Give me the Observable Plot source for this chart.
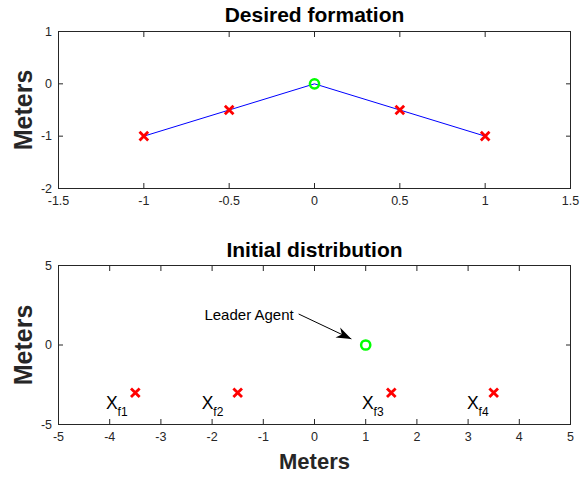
<!DOCTYPE html>
<html><head><meta charset="utf-8">
<script src="https://cdn.jsdelivr.net/npm/d3@7"></script>
<script src="https://cdn.jsdelivr.net/npm/@observablehq/plot@0.6"></script>
<style>
body{margin:0;background:#fff}
#c{position:relative;width:587px;height:478px}
#c svg{position:absolute;left:0}
</style>
</head><body><div id="c"></div>
<script>
// ---- Data ----
const desiredTitle = "Desired formation";
const initialTitle = "Initial distribution";
const axisLabel = "Meters";
const desiredLineX = [-1, -0.5, 0, 0.5, 1];
const desiredLineY = [-1, -0.5, 0, -0.5, -1];
const desiredFollowerX = [-1, -0.5, 0.5, 1];
const desiredFollowerY = [-1, -0.5, -0.5, -1];
const desiredLeaderX = [0];
const desiredLeaderY = [0];
const initFollowerX = [-3.5, -1.5, 1.5, 3.5];
const initFollowerY = [-3, -3, -3, -3];
const initLeaderX = [1];
const initLeaderY = [0];
const followerNames = ["f1", "f2", "f3", "f4"];
const followerLabelX = [-4.07, -2.2, 0.93, 2.98];
const followerLabelY = [-3.65, -3.65, -3.65, -3.65];
const annotationText = "Leader Agent";
const annotationTextPos = [-2.15, 1.86];
const arrowTail = [-0.31, 1.95];
const arrowTip = [0.72, 0.38];
const topXTicks = [-1.5, -1, -0.5, 0, 0.5, 1, 1.5];
const topYTicks = [-2, -1, 0, 1];
const botXTicks = [-5, -4, -3, -2, -1, 0, 1, 2, 3, 4, 5];
const botYTicks = [-5, 0, 5];

const FONT = "'Liberation Sans', Arial, Helvetica, sans-serif";
const AX = "#262626";
const W = 587, ML = 58, MR = 17;

function axes(xt, yt) {
  const fmt = d => String(d);
  return [
    Plot.frame({stroke: AX, strokeWidth: 1}),
    Plot.axisX(xt, {anchor: "bottom", tickSize: -5, tickPadding: 12.5, tickFormat: fmt, label: null, stroke: AX, fill: AX, fontSize: 12.5}),
    Plot.axisX(xt, {anchor: "top", tickSize: -5, label: null, stroke: AX, fill: "none"}),
    Plot.axisY(yt, {anchor: "left", tickSize: -5, tickPadding: 11.5, tickFormat: fmt, label: null, stroke: AX, fill: AX, fontSize: 12.5}),
    Plot.axisY(yt, {anchor: "right", tickSize: -5, label: null, stroke: AX, fill: "none"})
  ];
}
function ylabel() {
  return Plot.text([axisLabel], {text: d => d, frameAnchor: "left", textAnchor: "middle", lineAnchor: "middle", rotate: -90, dx: -35, fontSize: 25, fontWeight: "bold", fill: AX, fontFamily: FONT});
}
function title(t, dy) {
  return Plot.text([t], {text: d => d, frameAnchor: "top", textAnchor: "middle", lineAnchor: "middle", dy, fontSize: 21, fontWeight: "bold", fill: "black", fontFamily: FONT});
}

// ---- Top plot ----
const H1 = 215, MT1 = 31, MB1 = 27;
const lineData = desiredLineX.map((x, i) => ({x, y: desiredLineY[i]}));
const topPlot = Plot.plot({
  width: W, height: H1, marginLeft: ML, marginRight: MR, marginTop: MT1, marginBottom: MB1,
  style: {fontFamily: FONT, fontSize: "12px", background: "white", overflow: "visible"},
  x: {domain: [-1.5, 1.5], axis: null},
  y: {domain: [-2, 1], axis: null},
  marks: [
    ...axes(topXTicks, topYTicks),
    Plot.line(lineData, {x: "x", y: "y", stroke: "#0000ff", strokeWidth: 1}),
    Plot.dot(desiredFollowerX.map((x, i) => ({x, y: desiredFollowerY[i]})), {x: "x", y: "y", symbol: "times", r: 4, stroke: "#ff0000", strokeWidth: 2.8}),
    Plot.dot(desiredLeaderX.map((x, i) => ({x, y: desiredLeaderY[i]})), {x: "x", y: "y", r: 4.6, stroke: "#00ff00", strokeWidth: 2.5, fill: "none"}),
    ylabel(),
    title(desiredTitle, -16.5)
  ]
});
topPlot.style.top = "0px";

// ---- Bottom plot ----
const H2 = 263, MT2 = 50, MB2 = 54;
const kx = (W - ML - MR) / 10, ky = (H2 - MT2 - MB2) / 10;
const angle = Math.atan2((arrowTail[1] - arrowTip[1]) * ky, (arrowTip[0] - arrowTail[0]) * kx) * 180 / Math.PI;
const arrowHead = {draw(ctx) { const L = 15, Wd = 11; ctx.moveTo(0, 0); ctx.lineTo(-L, -Wd / 2); ctx.lineTo(-L * 0.7, 0); ctx.lineTo(-L, Wd / 2); ctx.closePath(); }};
const labels = followerNames.map((n, i) => ({x: followerLabelX[i], y: followerLabelY[i], n}));
const bottomPlot = Plot.plot({
  width: W, height: H2, marginLeft: ML, marginRight: MR, marginTop: MT2, marginBottom: MB2,
  style: {fontFamily: FONT, fontSize: "12px", background: "white", overflow: "visible"},
  x: {domain: [-5, 5], axis: null},
  y: {domain: [-5, 5], axis: null},
  marks: [
    ...axes(botXTicks, botYTicks),
    Plot.dot(initFollowerX.map((x, i) => ({x, y: initFollowerY[i]})), {x: "x", y: "y", symbol: "times", r: 4, stroke: "#ff0000", strokeWidth: 2.8}),
    Plot.dot(initLeaderX.map((x, i) => ({x, y: initLeaderY[i]})), {x: "x", y: "y", r: 4.6, stroke: "#00ff00", strokeWidth: 2.5, fill: "none"}),
    Plot.text(labels, {x: "x", y: "y", text: () => "X", textAnchor: "start", fontSize: 17.5, fill: "black"}),
    Plot.text(labels, {x: "x", y: "y", text: "n", textAnchor: "start", dx: 11.5, dy: 9.5, fontSize: 12, fill: "black"}),
    Plot.text([annotationText], {x: () => annotationTextPos[0], y: () => annotationTextPos[1], text: d => d, textAnchor: "start", fontSize: 15, fill: "black"}),
    Plot.link([0], {x1: () => arrowTail[0], y1: () => arrowTail[1], x2: () => arrowTip[0], y2: () => arrowTip[1], stroke: "black", strokeWidth: 1}),
    Plot.dot([0], {x: () => arrowTip[0], y: () => arrowTip[1], symbol: arrowHead, rotate: angle, fill: "black", stroke: "none"}),
    ylabel(),
    Plot.text([axisLabel], {text: d => d, frameAnchor: "bottom", textAnchor: "middle", lineAnchor: "middle", dy: 37.5, fontSize: 22, fontWeight: "bold", fill: AX, fontFamily: FONT}),
    title(initialTitle, -15.5)
  ]
});
bottomPlot.style.top = H1 + "px";
document.getElementById("c").append(topPlot, bottomPlot);
</script>
</body></html>
